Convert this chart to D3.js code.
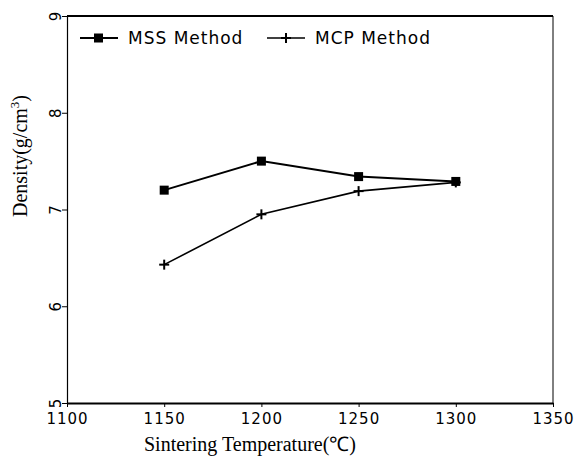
<!DOCTYPE html>
<html><head><meta charset="utf-8">
<script src="https://cdn.jsdelivr.net/npm/d3@7"></script>
<style>body{margin:0;background:#fff}</style>
</head><body>
<svg id="c" width="579" height="467"></svg>
<script>
const temps = [1150, 1200, 1250, 1300];
const mssDensity = [7.20, 7.50, 7.34, 7.29];
const mcpDensity = [6.43, 6.95, 7.19, 7.28];
const xTicks = [1100, 1150, 1200, 1250, 1300, 1350];
const xTickLabels = ["1100", "1150", "1200", "1250", "1300", "1350"];
const yTicks = [5, 6, 7, 8, 9];
const seriesNames = ["MSS Method", "MCP Method"];

const svg = d3.select("#c");
const L = 67, R = 553, T = 16, B = 403;
const x = d3.scaleLinear().domain([1100, 1350]).range([L, R]);
const y = d3.scaleLinear().domain([5, 9]).range([B, T]);

// frame top & right
svg.append("line").attr("x1", L).attr("x2", R).attr("y1", T).attr("y2", T).attr("stroke", "#000").attr("stroke-width", 2);
svg.append("line").attr("x1", R).attr("x2", R).attr("y1", T).attr("y2", B).attr("stroke", "#000").attr("stroke-width", 1);

// x axis
const xa = svg.append("g").attr("transform", `translate(0,${B})`)
  .call(d3.axisBottom(x).tickValues(xTicks).tickFormat((d, i) => xTickLabels[i]).tickSize(4).tickSizeOuter(0).tickPadding(6));
xa.select(".domain").attr("stroke-width", 2);
xa.selectAll("text").attr("font-family", "DejaVu Sans, sans-serif").attr("font-size", 15).attr("letter-spacing", 1).attr("fill", "#000");

// y axis
const ya = svg.append("g").attr("transform", `translate(${L},0)`)
  .call(d3.axisLeft(y).tickValues(yTicks).tickFormat(d3.format("d")).tickSize(5).tickSizeOuter(0));
ya.select(".domain").attr("stroke-width", 1.2);
ya.selectAll("text").attr("font-family", "DejaVu Sans, sans-serif").attr("font-size", 15)
  .attr("fill", "#000").attr("text-anchor", "middle").attr("dy", null).attr("x", null)
  .attr("transform", "translate(-11,0) rotate(-90)").attr("dominant-baseline", "central");

const line = d3.line().x((d, i) => x(temps[i])).y(d => y(d));

// MSS series
svg.append("path").datum(mssDensity).attr("d", line).attr("fill", "none").attr("stroke", "#000").attr("stroke-width", 2);
svg.selectAll(".sq").data(mssDensity).enter().append("rect")
  .attr("x", (d, i) => x(temps[i]) - 4.5).attr("y", d => y(d) - 4.5).attr("width", 9).attr("height", 9).attr("fill", "#000");

// MCP series
svg.append("path").datum(mcpDensity).attr("d", line).attr("fill", "none").attr("stroke", "#000").attr("stroke-width", 1.6);
const plus = (g, cx, cy) => {
  g.append("line").attr("x1", cx - 5).attr("x2", cx + 5).attr("y1", cy).attr("y2", cy).attr("stroke", "#000").attr("stroke-width", 2);
  g.append("line").attr("x1", cx).attr("x2", cx).attr("y1", cy - 5).attr("y2", cy + 5).attr("stroke", "#000").attr("stroke-width", 2);
};
const pg = svg.append("g");
mcpDensity.forEach((d, i) => plus(pg, x(temps[i]), y(d)));

// legend
const lg = svg.append("g").attr("font-family", "DejaVu Sans, sans-serif").attr("font-size", 17);
const ly = 38;
lg.append("line").attr("x1", 80).attr("x2", 118).attr("y1", ly).attr("y2", ly).attr("stroke", "#000").attr("stroke-width", 2);
lg.append("rect").attr("x", 94).attr("y", ly - 4.5).attr("width", 9).attr("height", 9).attr("fill", "#000");
lg.append("text").attr("x", 128).attr("y", ly).attr("dy", "0.35em").attr("letter-spacing", 1).text(seriesNames[0]);
lg.append("line").attr("x1", 267).attr("x2", 305).attr("y1", ly).attr("y2", ly).attr("stroke", "#000").attr("stroke-width", 1.6);
plus(lg, 286, ly);
lg.append("text").attr("x", 315).attr("y", ly).attr("dy", "0.35em").attr("letter-spacing", 1).text(seriesNames[1]);

// axis titles
svg.append("text").attr("x", 250).attr("y", 451).attr("text-anchor", "middle")
  .attr("font-family", "Liberation Serif, Times New Roman, serif").attr("font-size", 20).text("Sintering Temperature(℃)");
const yl = svg.append("text").attr("transform", "translate(27,156) rotate(-90)").attr("text-anchor", "middle")
  .attr("font-family", "Liberation Serif, Times New Roman, serif").attr("font-size", 20);
yl.append("tspan").text("Density(g/cm");
yl.append("tspan").attr("dy", -8).attr("font-size", 13).text("3");
yl.append("tspan").attr("dy", 8).text(")");
</script>
</body></html>
